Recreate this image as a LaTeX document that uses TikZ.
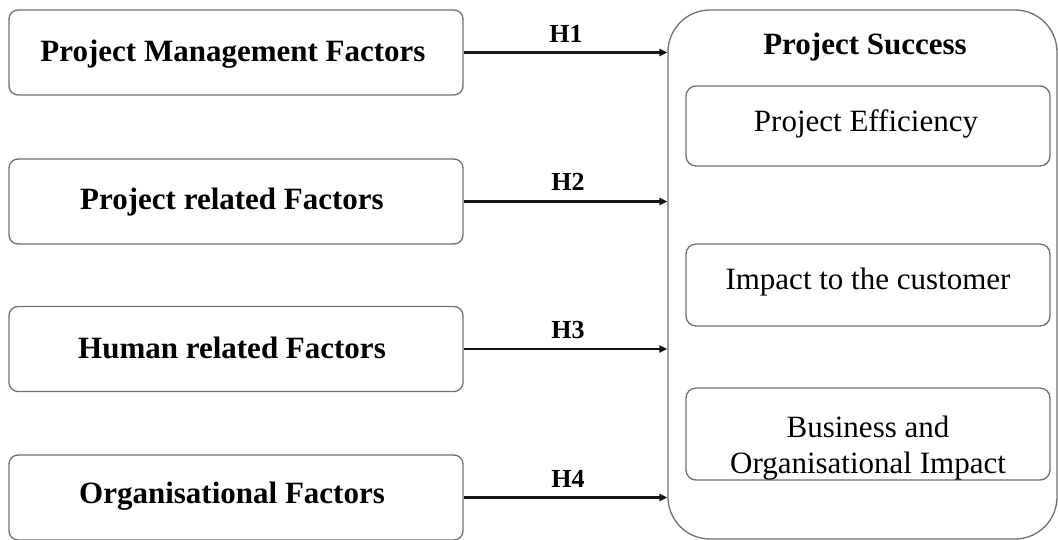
\documentclass[tikz,border=0pt]{standalone}
\usepackage{fontspec}
\setmainfont{Liberation Serif}
\usetikzlibrary{arrows.meta}
\definecolor{boxgray}{HTML}{707070}
\definecolor{linkblack}{HTML}{151515}
\begin{document}
\begin{tikzpicture}[x=1pt,y=-1pt,
  factor/.style={draw=boxgray, line width=1.3pt, rounded corners=9pt,
    minimum width=454pt, minimum height=85pt, inner sep=0pt},
  outcome/.style={draw=boxgray, line width=1.3pt, rounded corners=10pt,
    minimum width=364pt, inner sep=0pt},
  successbox/.style={draw=boxgray, line width=1.3pt, rounded corners=42pt,
    minimum width=389pt, minimum height=529pt, inner sep=0pt},
  boldtxt/.style={font=\fontsize{31}{36}\selectfont\bfseries, anchor=base, inner sep=0pt},
  plaintxt/.style={font=\fontsize{31}{36}\selectfont, anchor=base, inner sep=0pt},
  hyp/.style={font=\fontsize{26}{30}\selectfont\bfseries, anchor=base, inner sep=0pt},
  link/.style={draw=linkblack, line width=2.3pt, -{Triangle[length=8pt,width=7pt]}}
]
\useasboundingbox (0,0) rectangle (1058,540);

% factor boxes on the left
\node[factor] (pm) at (236,52.5) {};
\node[factor] (pr) at (236,201.5) {};
\node[factor] (hr) at (236,349) {};
\node[factor] (og) at (236,497.5) {};

\node[boldtxt] (pmt) at (233,62) {Project Management Factors};
\node[boldtxt] (prt) at (232,210) {Project related Factors};
\node[boldtxt] (hrt) at (232,358) {Human related Factors};
\node[boldtxt] (ogt) at (232,503) {Organisational Factors};

% project success block
\node[successbox] (ps) at (862.5,274.5) {};
\node[boldtxt] (pst) at (865,55) {Project Success};

\node[outcome, minimum height=80pt] (eff) at (868,126) {};
\node[outcome, minimum height=82pt] (cus) at (868,285) {};
\node[outcome, minimum height=92pt] (bus) at (868,434) {};

\node[plaintxt] (efft) at (866,132) {Project Efficiency};
\node[plaintxt] (cust) at (868,290) {Impact to the customer};
\node[plaintxt] (bus1) at (868,437) {Business and};
\node[plaintxt] (bus2) at (868,473) {Organisational Impact};

% hypotheses
\draw[link] (pm.east) -- (pm.east -| ps.west);
\draw[link] (pr.east) -- (pr.east -| ps.west);
\draw[link] (hr.east) -- (hr.east -| ps.west);
\draw[link] (og.east) -- (og.east -| ps.west);

\node[hyp] (h1) at (566,43) {H1};
\node[hyp] (h2) at (568,191) {H2};
\node[hyp] (h3) at (568,338) {H3};
\node[hyp] (h4) at (568,487) {H4};
\end{tikzpicture}
\end{document}
